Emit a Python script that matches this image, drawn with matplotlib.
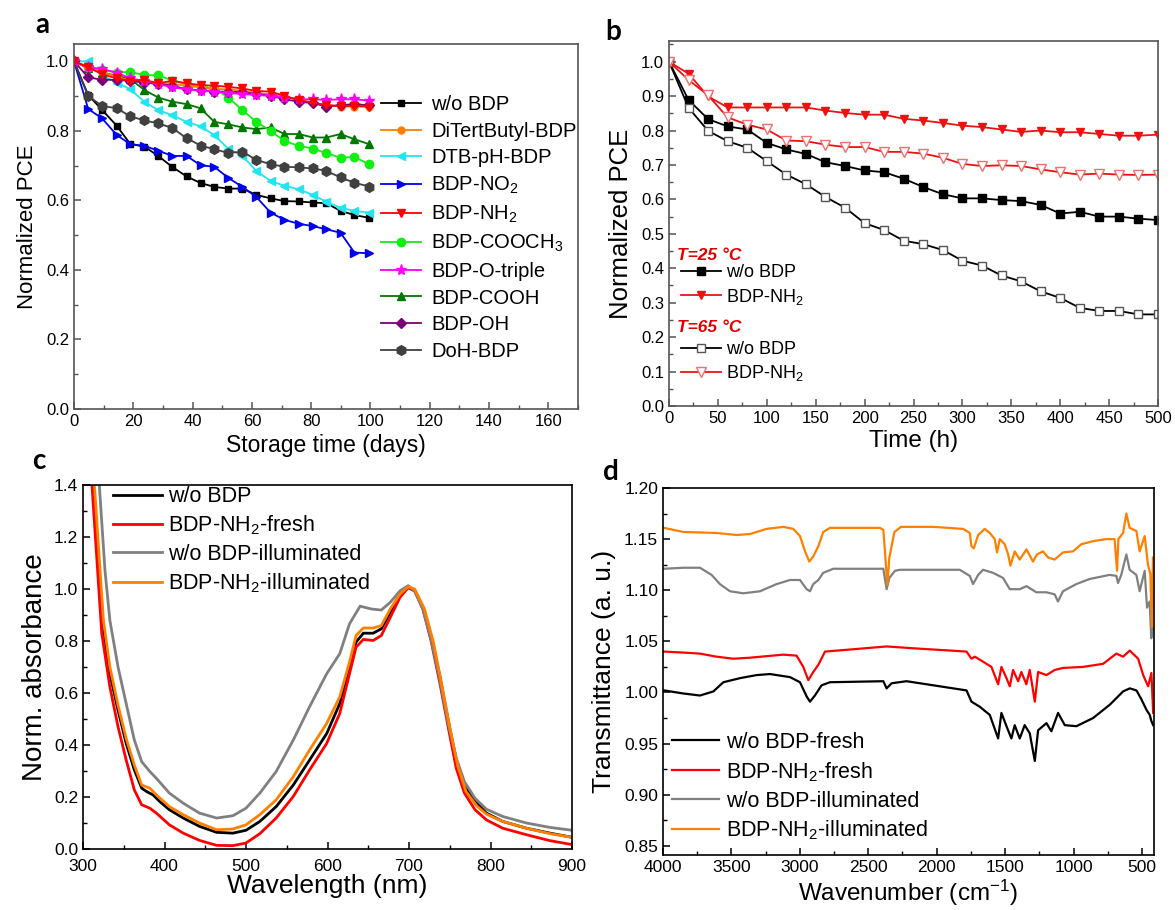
import matplotlib
matplotlib.use("Agg")
import matplotlib.pyplot as plt
from matplotlib.ticker import MultipleLocator, FormatStrFormatter

plt.rcParams['font.family'] = ['Liberation Sans', 'DejaVu Sans']
plt.rcParams['mathtext.fontset'] = 'custom'
plt.rcParams['mathtext.rm'] = 'Liberation Sans'
plt.rcParams['mathtext.default'] = 'regular'

# ---------------- panel a: storage stability ----------------
days = [0, 4.8, 9.5, 14.4, 19, 23.7, 28.4, 33.2, 38, 42.7, 47.3, 52, 56.8,
        61.5, 66.3, 71, 75.8, 80.6, 85.1, 89.9, 94.6, 99.5]
wo_bdp = [1.0, 0.903, 0.860, 0.815, 0.762, 0.755, 0.728, 0.696, 0.669, 0.650, 0.639,
          0.634, 0.634, 0.616, 0.606, 0.598, 0.597, 0.594, 0.592, 0.570, 0.558, 0.550]
ditertbutyl = [1.0, 0.980, 0.970, 0.955, 0.945, 0.940, 0.935, 0.935, 0.930, 0.925, 0.920,
               0.920, 0.915, 0.910, 0.905, 0.900, 0.890, 0.880, 0.875, 0.870, 0.870, 0.870]
dtb_ph = [1.0, 1.0, 0.959, 0.939, 0.920, 0.884, 0.860, 0.845, 0.826, 0.813, 0.788,
          0.749, 0.728, 0.685, 0.656, 0.642, 0.632, 0.616, 0.596, 0.579, 0.570, 0.565]
no2 = [1.0, 0.863, 0.836, 0.788, 0.762, 0.757, 0.743, 0.728, 0.728, 0.701, 0.697,
       0.665, 0.639, 0.610, 0.565, 0.544, 0.533, 0.526, 0.517, 0.507, 0.450, 0.448]
nh2 = [1.0, 0.983, 0.963, 0.951, 0.944, 0.947, 0.937, 0.944, 0.937, 0.932, 0.930,
       0.927, 0.922, 0.915, 0.913, 0.901, 0.888, 0.882, 0.874, 0.872, 0.872, 0.870]
cooch3 = [1.0, 0.985, 0.975, 0.968, 0.970, 0.960, 0.960, 0.945, 0.935, 0.928, 0.922,
          0.896, 0.860, 0.826, 0.800, 0.771, 0.757, 0.749, 0.736, 0.723, 0.725, 0.704]
o_triple = [1.0, 0.983, 0.978, 0.968, 0.951, 0.944, 0.935, 0.925, 0.920, 0.915, 0.913,
            0.909, 0.906, 0.903, 0.901, 0.896, 0.891, 0.891, 0.889, 0.891, 0.891, 0.887]
cooh = [1.0, 0.980, 0.968, 0.959, 0.949, 0.918, 0.896, 0.884, 0.877, 0.865, 0.826,
        0.819, 0.810, 0.805, 0.810, 0.791, 0.791, 0.781, 0.781, 0.791, 0.776, 0.762]
oh = [1.0, 0.954, 0.947, 0.947, 0.944, 0.939, 0.935, 0.930, 0.920, 0.917, 0.913,
      0.913, 0.911, 0.906, 0.901, 0.891, 0.884, 0.880, 0.870, 0.874, 0.877, 0.874]
doh = [1.0, 0.900, 0.872, 0.865, 0.842, 0.830, 0.822, 0.808, 0.779, 0.758, 0.747,
       0.737, 0.740, 0.717, 0.704, 0.697, 0.695, 0.692, 0.685, 0.666, 0.651, 0.640]

# ---------------- panel b: thermal stability ----------------
hours = [0, 20, 40, 60, 80, 100, 120, 140, 160, 180, 200, 220, 240, 260, 280,
         300, 320, 340, 360, 380, 400, 420, 440, 460, 480, 500]
wo_25 = [1.0, 0.889, 0.833, 0.812, 0.803, 0.764, 0.745, 0.732, 0.708, 0.697, 0.684, 0.679,
         0.660, 0.636, 0.615, 0.603, 0.603, 0.598, 0.595, 0.584, 0.559, 0.564, 0.550,
         0.550, 0.544, 0.540]
nh2_25 = [1.0, 0.965, 0.899, 0.867, 0.867, 0.867, 0.867, 0.867, 0.858, 0.851, 0.846, 0.846,
          0.834, 0.829, 0.822, 0.814, 0.810, 0.803, 0.796, 0.800, 0.795, 0.795, 0.790,
          0.785, 0.785, 0.788]
wo_65 = [1.0, 0.866, 0.799, 0.769, 0.750, 0.711, 0.672, 0.644, 0.607, 0.576, 0.531, 0.511,
         0.480, 0.470, 0.453, 0.422, 0.408, 0.379, 0.362, 0.333, 0.314, 0.285, 0.276,
         0.276, 0.266, 0.266]
nh2_65 = [1.0, 0.947, 0.902, 0.838, 0.817, 0.803, 0.771, 0.769, 0.759, 0.752, 0.752, 0.738,
          0.738, 0.733, 0.721, 0.703, 0.697, 0.699, 0.697, 0.687, 0.679, 0.672, 0.675,
          0.672, 0.671, 0.672]

# ---------------- panel c: UV-vis ----------------
wl_wo = [306, 312, 325, 333, 343, 353, 363, 372, 378, 386, 394, 406, 423, 443, 464, 484,
         500, 517, 537, 558, 578, 599, 615, 627, 635, 644, 656, 666, 677, 689, 699, 707,
         717, 727, 738, 748, 758, 768, 781, 795, 815, 844, 873, 900]
abs_wo = [1.65, 1.40, 0.853, 0.674, 0.534, 0.406, 0.304, 0.234, 0.221, 0.208, 0.183, 0.151,
          0.119, 0.087, 0.064, 0.061, 0.072, 0.106, 0.163, 0.246, 0.342, 0.444, 0.559,
          0.700, 0.796, 0.830, 0.830, 0.847, 0.910, 0.974, 1.006, 0.993, 0.930, 0.815,
          0.662, 0.495, 0.342, 0.246, 0.183, 0.138, 0.106, 0.080, 0.061, 0.045]
wl_nh2 = [305, 311, 323, 333, 343, 353, 363, 372, 382, 390, 406, 423, 443, 464, 484, 500,
          517, 537, 558, 578, 599, 615, 627, 635, 644, 656, 666, 677, 689, 699, 707, 717,
          727, 738, 748, 758, 768, 781, 795, 815, 844, 873, 900]
abs_nh2 = [1.65, 1.40, 0.830, 0.623, 0.470, 0.342, 0.227, 0.170, 0.157, 0.138, 0.093, 0.061,
           0.033, 0.014, 0.013, 0.023, 0.059, 0.119, 0.202, 0.304, 0.406, 0.521, 0.674,
           0.776, 0.806, 0.802, 0.821, 0.891, 0.968, 1.006, 0.993, 0.923, 0.802, 0.636,
           0.470, 0.310, 0.215, 0.151, 0.112, 0.080, 0.055, 0.032, 0.017]
wl_wo_ill = [313, 320, 327, 333, 343, 353, 363, 372, 382, 390, 406, 423, 443, 464, 484,
             500, 517, 537, 558, 578, 599, 615, 627, 640, 654, 666, 677, 689, 699, 707,
             717, 727, 738, 748, 758, 768, 781, 795, 815, 844, 873, 900]
abs_wo_ill = [1.65, 1.40, 1.07, 0.879, 0.700, 0.559, 0.419, 0.336, 0.298, 0.272, 0.215,
              0.176, 0.138, 0.119, 0.128, 0.157, 0.215, 0.298, 0.419, 0.547, 0.674, 0.751,
              0.866, 0.934, 0.923, 0.919, 0.949, 0.993, 1.013, 0.993, 0.923, 0.808, 0.649,
              0.483, 0.349, 0.259, 0.195, 0.153, 0.125, 0.100, 0.083, 0.072]
wl_nh2_ill = [308, 314, 325, 333, 343, 353, 363, 372, 382, 390, 406, 423, 443, 464, 484,
              500, 517, 537, 558, 578, 599, 615, 627, 635, 644, 656, 666, 677, 689, 699,
              707, 719, 730, 740, 750, 760, 770, 783, 795, 815, 844, 873, 900]
abs_nh2_ill = [1.65, 1.40, 0.879, 0.700, 0.553, 0.425, 0.323, 0.246, 0.234, 0.208, 0.163,
               0.132, 0.100, 0.074, 0.077, 0.093, 0.132, 0.189, 0.278, 0.381, 0.483, 0.585,
               0.719, 0.821, 0.850, 0.850, 0.859, 0.923, 0.981, 1.009, 1.000, 0.923, 0.795,
               0.636, 0.470, 0.317, 0.221, 0.166, 0.134, 0.106, 0.080, 0.059, 0.045]

# ---------------- panel d: FTIR ----------------
wn_wo = [3993, 3852, 3730, 3632, 3559, 3437, 3316, 3218, 3072, 2999, 2950, 2926, 2890,
         2841, 2780, 2390, 2366, 2329, 2220, 2025, 1782, 1746, 1685, 1612, 1551, 1527,
         1490, 1454, 1430, 1393, 1357, 1320, 1283, 1259, 1198, 1162, 1113, 1064, 979,
         857, 735, 638, 589, 540, 503, 467, 443, 431, 418]
tr_wo = [1.002, 0.999, 0.997, 1.001, 1.010, 1.014, 1.017, 1.018, 1.015, 1.010, 0.996,
         0.991, 0.997, 1.007, 1.010, 1.011, 1.004, 1.009, 1.011, 1.007, 1.002, 0.991,
         0.986, 0.978, 0.955, 0.980, 0.967, 0.955, 0.968, 0.955, 0.968, 0.960, 0.933,
         0.963, 0.970, 0.962, 0.980, 0.968, 0.967, 0.975, 0.988, 1.001, 1.004, 1.002,
         0.993, 0.983, 0.978, 0.972, 0.968]
wn_nh2 = [3993, 3852, 3730, 3608, 3486, 3364, 3121, 3024, 2975, 2938, 2902, 2865, 2816,
          2634, 2366, 2147, 1782, 1746, 1721, 1660, 1600, 1551, 1527, 1490, 1466, 1442,
          1405, 1381, 1345, 1320, 1283, 1259, 1198, 1137, 1076, 930, 784, 687, 638, 589,
          528, 491, 455, 431, 418]
tr_nh2 = [1.040, 1.039, 1.038, 1.035, 1.033, 1.034, 1.037, 1.036, 1.025, 1.012, 1.020,
          1.027, 1.040, 1.042, 1.045, 1.043, 1.040, 1.033, 1.035, 1.030, 1.025, 1.008,
          1.025, 1.014, 1.006, 1.022, 1.011, 1.020, 1.008, 1.022, 0.991, 1.020, 1.017,
          1.022, 1.024, 1.025, 1.028, 1.038, 1.035, 1.041, 1.033, 1.017, 1.006, 1.019,
          0.980]
wn_wo_ill = [3993, 3852, 3730, 3645, 3584, 3511, 3413, 3291, 3170, 3072, 2999, 2950,
             2926, 2902, 2865, 2829, 2756, 2390, 2366, 2346, 2305, 2269, 1831, 1758,
             1734, 1697, 1661, 1588, 1515, 1466, 1393, 1344, 1272, 1199, 1138, 1114,
             1077, 980, 882, 736, 687, 675, 651, 614, 590, 541, 517, 480, 463, 444,
             432, 420]
tr_wo_ill = [1.121, 1.122, 1.122, 1.115, 1.106, 1.099, 1.097, 1.099, 1.106, 1.110,
             1.110, 1.101, 1.099, 1.106, 1.110, 1.117, 1.121, 1.121, 1.101, 1.112,
             1.119, 1.120, 1.120, 1.114, 1.106, 1.115, 1.120, 1.117, 1.112, 1.101,
             1.101, 1.104, 1.098, 1.098, 1.096, 1.089, 1.099, 1.106, 1.111, 1.115,
             1.114, 1.107, 1.115, 1.135, 1.120, 1.115, 1.099, 1.119, 1.083, 1.089,
             1.053, 1.063]
wn_nh2_ill = [3993, 3852, 3608, 3462, 3364, 3243, 3121, 3048, 2999, 2962, 2931, 2902,
              2865, 2829, 2780, 2414, 2390, 2378, 2361, 2346, 2309, 2260, 2148, 2026,
              1807, 1758, 1746, 1729, 1697, 1649, 1612, 1576, 1559, 1539, 1503, 1478,
              1461, 1430, 1393, 1344, 1296, 1267, 1223, 1186, 1138, 1077, 1004, 943,
              858, 760, 700, 682, 672, 638, 614, 590, 541, 517, 480, 456, 439, 427, 420]
tr_nh2_ill = [1.161, 1.157, 1.156, 1.154, 1.155, 1.160, 1.162, 1.160, 1.153, 1.138,
              1.128, 1.133, 1.143, 1.157, 1.161, 1.161, 1.159, 1.138, 1.105, 1.132,
              1.157, 1.162, 1.162, 1.162, 1.160, 1.156, 1.143, 1.141, 1.154, 1.160,
              1.156, 1.150, 1.137, 1.150, 1.145, 1.135, 1.124, 1.138, 1.130, 1.140,
              1.128, 1.135, 1.138, 1.132, 1.130, 1.137, 1.138, 1.145, 1.148, 1.150,
              1.150, 1.119, 1.150, 1.156, 1.175, 1.161, 1.158, 1.138, 1.153, 1.125,
              1.116, 1.064, 1.132]

fig = plt.figure(figsize=(11.75, 9.1), dpi=100)
W, H = 1175, 910


def axes_px(left, top, right, bottom):
    return fig.add_axes([left / W, 1 - bottom / H, (right - left) / W, (bottom - top) / H])


def style_axes(ax, spine_color, tick_size):
    for s in ax.spines.values():
        s.set_color(spine_color)
        s.set_linewidth(1.2)
    ax.tick_params(which='both', direction='in', top=False, right=False,
                   colors=spine_color, labelcolor='black', labelsize=tick_size)
    ax.tick_params(which='major', length=5, width=1.1)
    ax.tick_params(which='minor', length=3, width=1.0)


# ---- a ----
ax = axes_px(74, 44, 578, 409)
series_a = [
    (wo_bdp, 'w/o BDP', 'black', 's', 5),
    (ditertbutyl, 'DiTertButyl-BDP', '#ff8000', 'o', 5),
    (dtb_ph, 'DTB-pH-BDP', '#22e5f0', '<', 6),
    (no2, 'BDP-NO$_2$', '#0000ee', '>', 6),
    (nh2, 'BDP-NH$_2$', '#ff0000', 'v', 6),
    (cooch3, 'BDP-COOCH$_3$', '#11ee11', 'o', 6),
    (o_triple, 'BDP-O-triple', '#ff00ff', '*', 8),
    (cooh, 'BDP-COOH', '#007800', '^', 6),
    (oh, 'BDP-OH', '#7a007a', 'D', 5),
    (doh, 'DoH-BDP', '#404040', 'h', 7),
]
# draw order so that top cluster stays visible like the original
order = [0, 3, 2, 9, 7, 5, 1, 8, 6, 4]
lines = {}
for i in order:
    vals, lab, col, mk, ms = series_a[i]
    ln, = ax.plot(days, vals, color=col, marker=mk, markersize=ms, linewidth=1.3, label=lab)
    lines[i] = ln
ax.set_xlim(0, 170)
ax.set_ylim(0, 1.05)
ax.xaxis.set_major_locator(MultipleLocator(20))
ax.xaxis.set_minor_locator(MultipleLocator(10))
ax.yaxis.set_major_locator(MultipleLocator(0.2))
ax.yaxis.set_minor_locator(MultipleLocator(0.1))
ax.yaxis.set_major_formatter(FormatStrFormatter('%.1f'))
style_axes(ax, '#555555', 12)
ax.set_xlabel('Storage time (days)', fontsize=16.5, labelpad=4)
ax.set_ylabel('Normalized PCE', fontsize=16, labelpad=6)
ax.legend([lines[i] for i in range(10)], [s[1] for s in series_a], loc='center left',
          bbox_to_anchor=(0.609, 0.496), frameon=False, fontsize=14.5, borderpad=0,
          borderaxespad=0, handlelength=2.0, handletextpad=0.5, labelspacing=0.38)

# ---- b ----
ax = axes_px(669, 41, 1158, 406)
l1, = ax.plot(hours, wo_25, color='black', marker='s', markersize=5.5, linewidth=1.3)
l2, = ax.plot(hours, nh2_25, color='#ee1111', marker='v', markersize=6, linewidth=1.3)
l3, = ax.plot(hours, wo_65, color='black', marker='s', markersize=6, linewidth=1.3,
              markerfacecolor='white', markeredgecolor='#555555', markeredgewidth=1.0)
l4, = ax.plot(hours, nh2_65, color='#ee1111', marker='v', markersize=7, linewidth=1.3,
              markerfacecolor='white', markeredgecolor='#f07070', markeredgewidth=1.0)
ax.set_xlim(0, 500)
ax.set_ylim(0, 1.06)
ax.xaxis.set_major_locator(MultipleLocator(50))
ax.xaxis.set_minor_locator(MultipleLocator(25))
ax.yaxis.set_major_locator(MultipleLocator(0.1))
ax.yaxis.set_minor_locator(MultipleLocator(0.05))
ax.yaxis.set_major_formatter(FormatStrFormatter('%.1f'))
style_axes(ax, '#555555', 12)
ax.set_xlabel('Time (h)', fontsize=17.5, labelpad=3)
ax.set_ylabel('Normalized PCE', fontsize=18.5, labelpad=6)
leg1 = ax.legend([l1, l2], ['w/o BDP', 'BDP-NH$_2$'], loc='center left',
                 bbox_to_anchor=(0.025, 0.330), frameon=False, fontsize=13, borderpad=0,
                 borderaxespad=0, handlelength=2.2, handletextpad=0.3, labelspacing=0.3)
ax.add_artist(leg1)
ax.legend([l3, l4], ['w/o BDP', 'BDP-NH$_2$'], loc='center left',
          bbox_to_anchor=(0.025, 0.120), frameon=False, fontsize=13, borderpad=0,
          borderaxespad=0, handlelength=2.2, handletextpad=0.3, labelspacing=0.3)
ax.text(0.016, 0.412, 'T=25 °C', transform=ax.transAxes, color='#e00000', fontsize=12.5,
        fontweight='bold', style='italic', va='center', ha='left')
ax.text(0.016, 0.215, 'T=65 °C', transform=ax.transAxes, color='#e00000', fontsize=12.5,
        fontweight='bold', style='italic', va='center', ha='left')

# ---- c ----
ax = axes_px(83, 485, 572, 849)
c1, = ax.plot(wl_wo, abs_wo, color='black', linewidth=2.0)
c2, = ax.plot(wl_nh2, abs_nh2, color='#ff0000', linewidth=2.0)
c3, = ax.plot(wl_wo_ill, abs_wo_ill, color='#808080', linewidth=2.0)
c4, = ax.plot(wl_nh2_ill, abs_nh2_ill, color='#ff8000', linewidth=2.0)
ax.set_xlim(300, 900)
ax.set_ylim(0, 1.4)
ax.xaxis.set_major_locator(MultipleLocator(100))
ax.xaxis.set_minor_locator(MultipleLocator(50))
ax.yaxis.set_major_locator(MultipleLocator(0.2))
ax.yaxis.set_minor_locator(MultipleLocator(0.1))
ax.yaxis.set_major_formatter(FormatStrFormatter('%.1f'))
style_axes(ax, 'black', 12.5)
ax.tick_params(axis='x', which='major', pad=7)
ax.set_xlabel('Wavelength (nm)', fontsize=19, labelpad=0)
ax.set_ylabel('Norm. absorbance', fontsize=20, labelpad=4)
ax.legend([c1, c2, c3, c4], ['w/o BDP', 'BDP-NH$_2$-fresh', 'w/o BDP-illuminated',
                             'BDP-NH$_2$-illuminated'],
          loc='center left', bbox_to_anchor=(0.061, 0.8475), frameon=False, fontsize=15.5,
          borderpad=0, borderaxespad=0, handlelength=2.28, handletextpad=0.28,
          labelspacing=0.3)

# ---- d ----
ax = axes_px(663, 488, 1154, 855)
d1, = ax.plot(wn_wo, tr_wo, color='black', linewidth=1.6)
d2, = ax.plot(wn_nh2, tr_nh2, color='#ff0000', linewidth=1.6)
d3, = ax.plot(wn_wo_ill, tr_wo_ill, color='#808080', linewidth=1.6)
d4, = ax.plot(wn_nh2_ill, tr_nh2_ill, color='#ff8000', linewidth=1.6)
ax.set_xlim(4000, 412)
ax.set_ylim(0.841, 1.20)
ax.xaxis.set_major_locator(MultipleLocator(500))
ax.xaxis.set_minor_locator(MultipleLocator(250))
ax.yaxis.set_major_locator(MultipleLocator(0.05))
ax.yaxis.set_minor_locator(MultipleLocator(0.025))
ax.yaxis.set_major_formatter(FormatStrFormatter('%.2f'))
style_axes(ax, 'black', 12.5)
ax.set_xlabel('Wavenumber (cm$^{-1}$)', fontsize=17.5, labelpad=2)
ax.set_ylabel('Transmittance (a. u.)', fontsize=19, labelpad=6)
ax.legend([d1, d2, d3, d4], ['w/o BDP-fresh', 'BDP-NH$_2$-fresh', 'w/o BDP-illuminated',
                             'BDP-NH$_2$-illuminated'],
          loc='center left', bbox_to_anchor=(0.018, 0.185), frameon=False, fontsize=15.5,
          borderpad=0, borderaxespad=0, handlelength=2.2, handletextpad=0.3,
          labelspacing=0.33)

# panel letters
for lab, x, y in [('a', 42, 25), ('b', 613, 32), ('c', 39, 461), ('d', 611, 472)]:
    fig.text(x / W, 1 - y / H, lab, fontsize=20, fontweight='bold', family=['Lato', 'DejaVu Sans'],
             ha='center', va='center')

fig.savefig('out.png', dpi=100)
